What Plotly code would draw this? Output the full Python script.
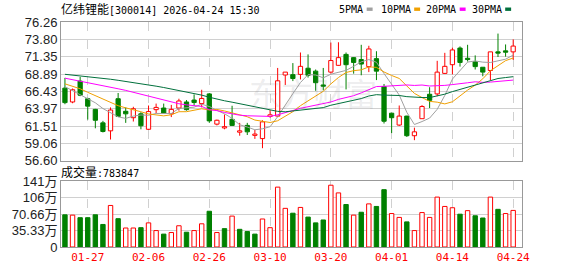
import plotly.graph_objects as go
import pandas as pd

# ---------------- data ----------------
stock_name = "亿纬锂能"
stock_code = "300014"
stamp = "2026-04-24 15:30"

dates = ["01-22", "01-23", "01-26", "01-27", "01-28", "01-29", "01-30", "02-02", "02-03", "02-04",
         "02-05", "02-06", "02-09", "02-10", "02-11", "02-12", "02-13", "02-24", "02-25", "02-26",
         "02-27", "03-02", "03-03", "03-04", "03-05", "03-06", "03-09", "03-10", "03-11", "03-12",
         "03-13", "03-16", "03-17", "03-18", "03-19", "03-20", "03-23", "03-24", "03-25", "03-26",
         "03-27", "03-30", "03-31", "04-01", "04-02", "04-03", "04-07", "04-08", "04-09", "04-10",
         "04-13", "04-14", "04-15", "04-16", "04-17", "04-20", "04-21", "04-22", "04-23", "04-24"]

opens = [66.89, 64.93, 67.89, 65.39, 63.88, 61.97, 60.84, 65.39, 63.61, 62.70,
         63.25, 61.06, 63.84, 64.07, 63.25, 64.07, 64.93, 65.20, 64.70, 66.07,
         61.79, 61.25, 62.47, 60.65, 61.61, 60.20, 59.74, 62.88, 62.93, 68.75,
         68.80, 68.84, 69.71, 69.30, 67.34, 69.16, 70.12, 71.67, 71.21, 70.94,
         69.94, 71.07, 67.12, 63.34, 61.66, 62.93, 60.15, 62.56, 66.02, 66.07,
         68.98, 70.21, 72.57, 71.12, 70.62, 69.85, 69.39, 72.03, 72.17, 72.03]
highs = [68.34, 66.84, 68.48, 65.52, 63.95, 62.25, 64.16, 66.20, 64.16, 64.25,
         63.48, 64.43, 64.70, 64.70, 64.52, 65.39, 65.20, 66.00, 66.66, 66.20,
         62.43, 63.16, 64.39, 61.97, 61.97, 60.97, 62.34, 63.79, 69.75, 69.16,
         70.44, 71.94, 71.67, 69.53, 69.75, 73.35, 73.39, 71.94, 71.30, 73.03,
         72.89, 72.12, 67.48, 63.39, 64.43, 62.97, 61.29, 64.48, 67.02, 70.76,
         71.89, 72.62, 72.80, 73.03, 71.53, 69.85, 72.03, 74.62, 73.08, 73.80]
lows = [64.61, 64.75, 65.75, 62.43, 61.20, 60.61, 59.61, 62.79, 61.97, 62.16,
        61.06, 60.97, 63.34, 63.34, 62.79, 63.70, 63.70, 64.40, 64.16, 61.97,
        61.61, 61.06, 61.56, 60.15, 60.25, 59.70, 58.38, 62.70, 62.79, 67.34,
        67.89, 68.12, 68.39, 66.52, 66.57, 68.94, 70.07, 66.71, 68.94, 68.71,
        69.16, 68.03, 61.88, 60.52, 61.52, 59.97, 59.52, 62.56, 64.07, 65.75,
        68.89, 68.84, 69.94, 70.66, 69.53, 68.57, 68.03, 71.30, 71.35, 70.89]
closes = [64.84, 66.66, 65.89, 64.34, 62.34, 60.75, 63.79, 62.88, 63.25, 63.97,
          61.56, 63.57, 64.16, 63.34, 63.88, 65.07, 63.84, 64.85, 65.43, 62.25,
          62.34, 61.43, 61.61, 60.84, 60.70, 60.38, 62.11, 63.11, 67.93, 69.16,
          68.25, 69.98, 68.71, 67.66, 67.16, 70.80, 71.21, 70.21, 70.53, 70.30,
          72.44, 69.30, 62.20, 62.70, 62.93, 60.15, 60.70, 64.29, 65.16, 69.16,
          69.98, 72.30, 70.53, 70.94, 69.94, 69.16, 72.03, 71.85, 71.98, 72.85]

# volume in 万
volumes = [68.97, 68.3, 62.8, 62.8, 69.0, 48.3, 89.0, 60.7, 40.7, 40.7,
           41.4, 51.7, 35.2, 27.6, 31.0, 45.5, 31.7, 35.2, 49.7, 76.6,
           31.0, 39.3, 66.2, 37.9, 33.1, 27.6, 60.0, 41.4, 128.3, 82.8,
           72.4, 84.8, 64.1, 51.7, 57.9, 132.4, 115.9, 91.0, 68.3, 74.5,
           92.4, 86.9, 122.8, 71.7, 63.4, 53.8, 35.2, 73.8, 63.4, 106.9,
           86.9, 84.1, 70.3, 77.9, 66.9, 62.1, 106.9, 80.7, 71.7, 78.3847]

# moving-average values before enough history exists in this window
ma5_lead = [67.1, 66.5, 66.0, 65.4]
ma10_lead = [67.5, 67.2, 66.8, 66.3, 65.8, 65.3, 64.8, 64.4, 64.1]
ma20_lead = [68.30, 68.10, 67.90, 67.70, 67.48, 67.25, 67.02, 66.80, 66.57, 66.30,
             66.03, 65.75, 65.47, 65.15, 64.85, 64.68, 64.52, 64.40, 64.30]
ma30_lead = [68.85, 68.75, 68.65, 68.55, 68.44, 68.30, 68.15, 68.00, 67.85, 67.68,
             67.50, 67.33, 67.17, 66.98, 66.78, 66.58, 66.39, 66.15, 65.90, 65.60,
             65.30, 65.10, 64.90, 64.70, 64.50, 64.28, 64.05, 63.82, 63.60]

price_ticks = [56.60, 59.06, 61.51, 63.97, 66.43, 68.89, 71.35, 73.80, 76.26]
vol_ticks = [0, 35.33, 70.66, 106.0, 141.32]
vol_tick_text = ["0", "35.33万", "70.66万", "106万", "141万"]
date_ticks = ["01-27", "02-06", "02-26", "03-10", "03-20", "04-01", "04-14", "04-24"]
ma_names = ["5PMA", "10PMA", "20PMA", "30PMA"]

# ---------------- styles ----------------
RED = "#ff0000"
GREEN = "#008000"
MA_COLORS = ["#a0a0a0", "#f0a000", "#ff00ff", "#00703c"]
BORDER = "#999999"
GRID = "#d0d0d0"
MONO = "DejaVu Sans Mono, Liberation Mono, monospace"
CJK = "Noto Sans CJK SC"
SANS = "Liberation Sans, Arial, Noto Sans CJK SC"

W, H = 578, 276
ML, MR, MT, MB = 56, 56, 22, 21
PW, PH = W - ML - MR, H - MT - MB


def px_x(p):
    return (p - ML) / PW


def px_y(p):
    return (H - MB - p) / PH


n = len(closes)
cs = pd.Series(closes)


def moving_avg(k, lead):
    m = cs.rolling(k).mean().tolist()
    m[:k - 1] = lead
    return m


mas = [moving_avg(5, ma5_lead), moving_avg(10, ma10_lead),
       moving_avg(20, ma20_lead), moving_avg(30, ma30_lead)]

up = [i for i in range(n) if closes[i] >= opens[i]]
dn = [i for i in range(n) if closes[i] < opens[i]]

fig = go.Figure()


def body_trace(idx, fill, line):
    return go.Bar(
        x=[dates[i] for i in idx],
        y=[max(abs(closes[i] - opens[i]), 0.06) for i in idx],
        base=[min(opens[i], closes[i]) for i in idx],
        width=0.56, marker=dict(color=fill, line=dict(color=line, width=1)),
        xaxis="x", yaxis="y", hoverinfo="skip")


def wick_trace(idx, color):
    xs, ys = [], []
    for i in idx:
        top = max(opens[i], closes[i])
        bot = min(opens[i], closes[i])
        if highs[i] > top:
            xs += [dates[i], dates[i], None]
            ys += [top, highs[i], None]
        if lows[i] < bot:
            xs += [dates[i], dates[i], None]
            ys += [lows[i], bot, None]
    return go.Scatter(x=xs, y=ys, mode="lines", line=dict(color=color, width=1),
                      xaxis="x", yaxis="y", hoverinfo="skip")


fig.add_trace(body_trace(up, "white", RED))
fig.add_trace(body_trace(dn, GREEN, GREEN))
fig.add_trace(wick_trace(up, RED))
fig.add_trace(wick_trace(dn, GREEN))

for name, m, col in zip(ma_names, mas, MA_COLORS):
    fig.add_trace(go.Scatter(x=dates, y=m, mode="lines", name=name,
                             line=dict(color=col, width=1), xaxis="x", yaxis="y",
                             hoverinfo="skip"))

# volume: colour by change vs previous close
vol_up = [closes[0] >= opens[0]] + [closes[i] >= closes[i - 1] for i in range(1, n)]
vu = [i for i in range(n) if vol_up[i]]
vd = [i for i in range(n) if not vol_up[i]]
fig.add_trace(go.Bar(x=[dates[i] for i in vu], y=[volumes[i] for i in vu], width=0.58,
                     marker=dict(color="white", line=dict(color=RED, width=1)),
                     xaxis="x2", yaxis="y2", hoverinfo="skip"))
fig.add_trace(go.Bar(x=[dates[i] for i in vd], y=[volumes[i] for i in vd], width=0.58,
                     marker=dict(color=GREEN, line=dict(color=GREEN, width=1)),
                     xaxis="x2", yaxis="y2", hoverinfo="skip"))

xrange = [-0.52, n - 1 + 1.16]
common_x = dict(type="category", categoryorder="array", categoryarray=dates,
                range=xrange, tickvals=date_ticks, tickangle=0, showgrid=True,
                gridcolor=GRID, griddash="dash", gridwidth=1, showline=True, mirror=True,
                linecolor=BORDER, linewidth=1, zeroline=False, ticks="")
common_y = dict(showgrid=True, gridcolor=GRID, gridwidth=1, showline=True, mirror=True,
                linecolor=BORDER, linewidth=1, zeroline=False, ticks="",
                tickfont=dict(family=SANS, size=13, color="#222222"))

fig.update_layout(
    width=W, height=H, margin=dict(l=ML, r=MR, t=MT, b=MB),
    paper_bgcolor="white", plot_bgcolor="white", showlegend=False,
    barmode="overlay", hovermode=False,
    xaxis=dict(domain=[0, 1], anchor="y", showticklabels=False, **common_x),
    yaxis=dict(domain=[px_y(165.7), 1], range=[price_ticks[0], price_ticks[-1]],
               tickvals=price_ticks, ticktext=[f"{v:.2f}" for v in price_ticks], **common_y),
    xaxis2=dict(domain=[0, 1], anchor="y2", matches="x", showticklabels=True,
                tickfont=dict(family=MONO, size=11, color=RED), **common_x),
    yaxis2=dict(domain=[0, px_y(186.7)], range=[vol_ticks[0], vol_ticks[-1]],
                tickvals=vol_ticks, ticktext=vol_tick_text, **common_y),
)

ann = []
# title
ann.append(dict(
    text=f"<span style=\"font-family:{CJK};font-size:12px\">{stock_name}</span>[{stock_code}] {stamp}",
    x=px_x(54), y=px_y(8.5), xref="paper", yref="paper", xanchor="left", yanchor="middle",
    showarrow=False, font=dict(family=MONO, size=10, color="#000000")))
# MA legend
legend_text_x = [335, 377, 423, 469]
legend_box_x = [365, 413, 459, 505]
shapes = []
for name, col, tx, bx in zip(ma_names, MA_COLORS, legend_text_x, legend_box_x):
    ann.append(dict(text=name, x=px_x(tx), y=px_y(9), xref="paper", yref="paper",
                    xanchor="left", yanchor="middle", showarrow=False,
                    font=dict(family=MONO, size=10, color="#000000")))
    shapes.append(dict(type="rect", xref="paper", yref="paper",
                       x0=px_x(bx), x1=px_x(bx + 6), y0=px_y(10.5), y1=px_y(7),
                       fillcolor=col, line=dict(width=0)))
# volume label
ann.append(dict(
    text=f"<span style=\"font-family:{CJK};font-size:12px\">成交量</span>:{int(round(volumes[-1] * 10000))}",
    x=px_x(54), y=px_y(177), xref="paper", yref="paper", xanchor="left", yanchor="middle",
    showarrow=False, font=dict(family=MONO, size=10, color="#000000")))
# watermark
ann.append(dict(text="东方财富", x=px_x(311), y=px_y(95), xref="paper", yref="paper",
                xanchor="center", yanchor="middle", showarrow=False,
                font=dict(family=CJK, size=32, color="rgba(120,120,130,0.14)")))

fig.update_layout(annotations=ann, shapes=shapes)

fig.write_html("out.html")
